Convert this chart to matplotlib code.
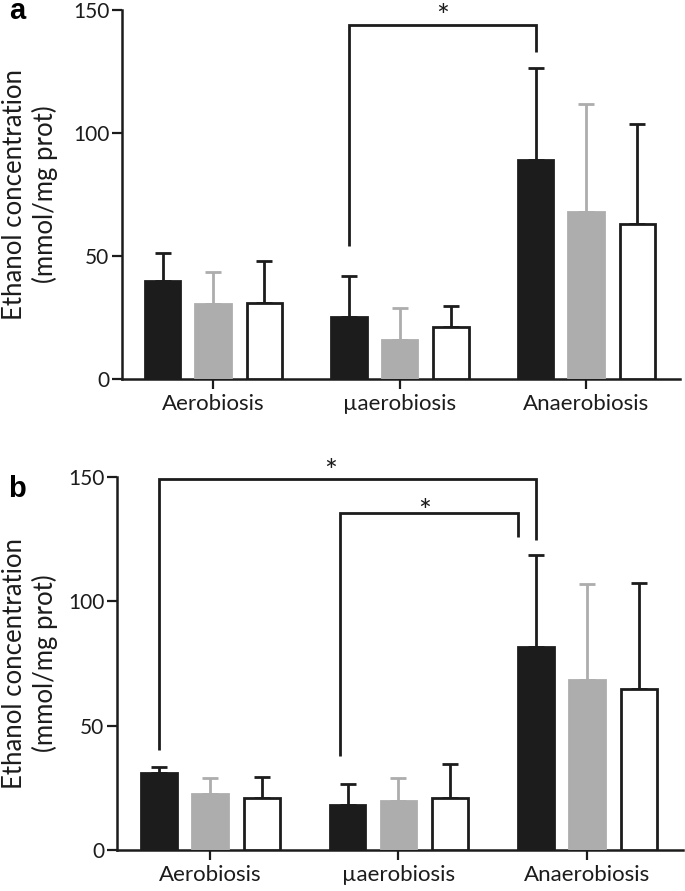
import matplotlib
matplotlib.use("Agg")
import matplotlib.pyplot as plt
import numpy as np

plt.rcParams['font.family'] = ['Lato', 'DejaVu Sans']

categories = ["Aerobiosis", "\u00b5aerobiosis", "Anaerobiosis"]

# Panel a: means (rows = condition, cols = series black / gray / white)
a_means = [[39.8, 30.5, 30.9],
           [25.2, 15.9, 21.1],
           [89.0, 67.9, 63.0]]
a_tops = [[51.2, 43.5, 48.0],
          [41.9, 28.9, 29.7],
          [126.4, 111.8, 103.7]]

# Panel b
b_means = [[31.0, 22.5, 21.0],
           [18.1, 19.7, 20.9],
           [81.7, 68.4, 64.8]]
b_tops = [[33.4, 29.0, 29.4],
          [26.5, 29.0, 34.6],
          [118.7, 107.0, 107.4]]

yticks = [0, 50, 100, 150]
ylabel = "Ethanol concentration\n(mmol/mg prot)"

fills = ['#1c1c1c', '#adadad', '#ffffff']
edges = ['#1c1c1c', '#adadad', '#1c1c1c']
ecolors = ['#1c1c1c', '#adadad', '#1c1c1c']
offsets = [-0.27, 0.0, 0.275]
width = 0.19
LW = 2.0

fig = plt.figure(figsize=(6.85, 8.91), dpi=100)
axa = fig.add_axes([122/685, 1-379/891, 558/685, 369/891])
axb = fig.add_axes([117/685, 1-850/891, 566/685, 373/891])


def draw(ax, means, tops, xlim):
    means = np.array(means)
    tops = np.array(tops)
    x = np.arange(len(categories))
    for j in range(3):
        m = means[:, j]
        err = tops[:, j] - m
        ax.bar(x + offsets[j], m, width=width, color=fills[j],
               edgecolor=edges[j], linewidth=LW, zorder=3)
        ax.errorbar(x + offsets[j], m, yerr=[np.zeros_like(err), err],
                    fmt='none', ecolor=ecolors[j], elinewidth=LW,
                    capsize=6, capthick=LW, zorder=2)
    ax.set_xlim(*xlim)
    ax.set_ylim(0, 150)
    ax.set_yticks(yticks)
    ax.set_xticks(x)
    ax.set_xticklabels(categories, fontsize=16, color='#1c1c1c')
    ax.tick_params(axis='y', labelsize=15, length=7, width=1.6,
                   direction='out', pad=2, colors='#1c1c1c')
    ax.tick_params(axis='x', length=7, width=1.6, direction='out', pad=4,
                   colors='#1c1c1c')
    for s in ['top', 'right']:
        ax.spines[s].set_visible(False)
    for s in ['left', 'bottom']:
        ax.spines[s].set_linewidth(1.8)
        ax.spines[s].set_color('#1c1c1c')
    ax.set_ylabel(ylabel, fontsize=18.5, multialignment='center',
                  color='#1c1c1c', linespacing=1.2)


def bracket(ax, x1, y1, x2, y2, ytop):
    ax.plot([x1, x1, x2, x2], [y1, ytop, ytop, y2], color='#1c1c1c',
            lw=LW, clip_on=False, zorder=4, solid_capstyle='butt',
            solid_joinstyle='miter')


def star(ax, x, y):
    ax.text(x, y, '*', ha='center', va='baseline', fontsize=22,
            color='#1c1c1c', clip_on=False)


draw(axa, a_means, a_tops, (-0.488, 2.504))
draw(axb, b_means, b_tops, (-0.493, 2.509))
axa.yaxis.set_label_coords(-0.115, 0.5)
axb.yaxis.set_label_coords(-0.105, 0.5)

# Panel a significance
bracket(axa, 1 + offsets[0], 54, 2 + offsets[0], 133, 144)
star(axa, 1.23, 143.5)

# Panel b significance
bracket(axb, 0 + offsets[0], 40.2, 2 + offsets[0], 124.7, 149)
star(axb, 0.64, 148.5)
bracket(axb, 0.69, 37.8, 1.634, 126, 135.5)
star(axb, 1.14, 132.5)

fig.text(17/685, 1-19/891, 'a', fontsize=21, fontweight='bold',
         family='Liberation Sans', ha='center', va='baseline')
fig.text(17/685, 1-497/891, 'b', fontsize=21, fontweight='bold',
         family='Liberation Sans', ha='center', va='baseline')

fig.savefig('out.png', dpi=100)
